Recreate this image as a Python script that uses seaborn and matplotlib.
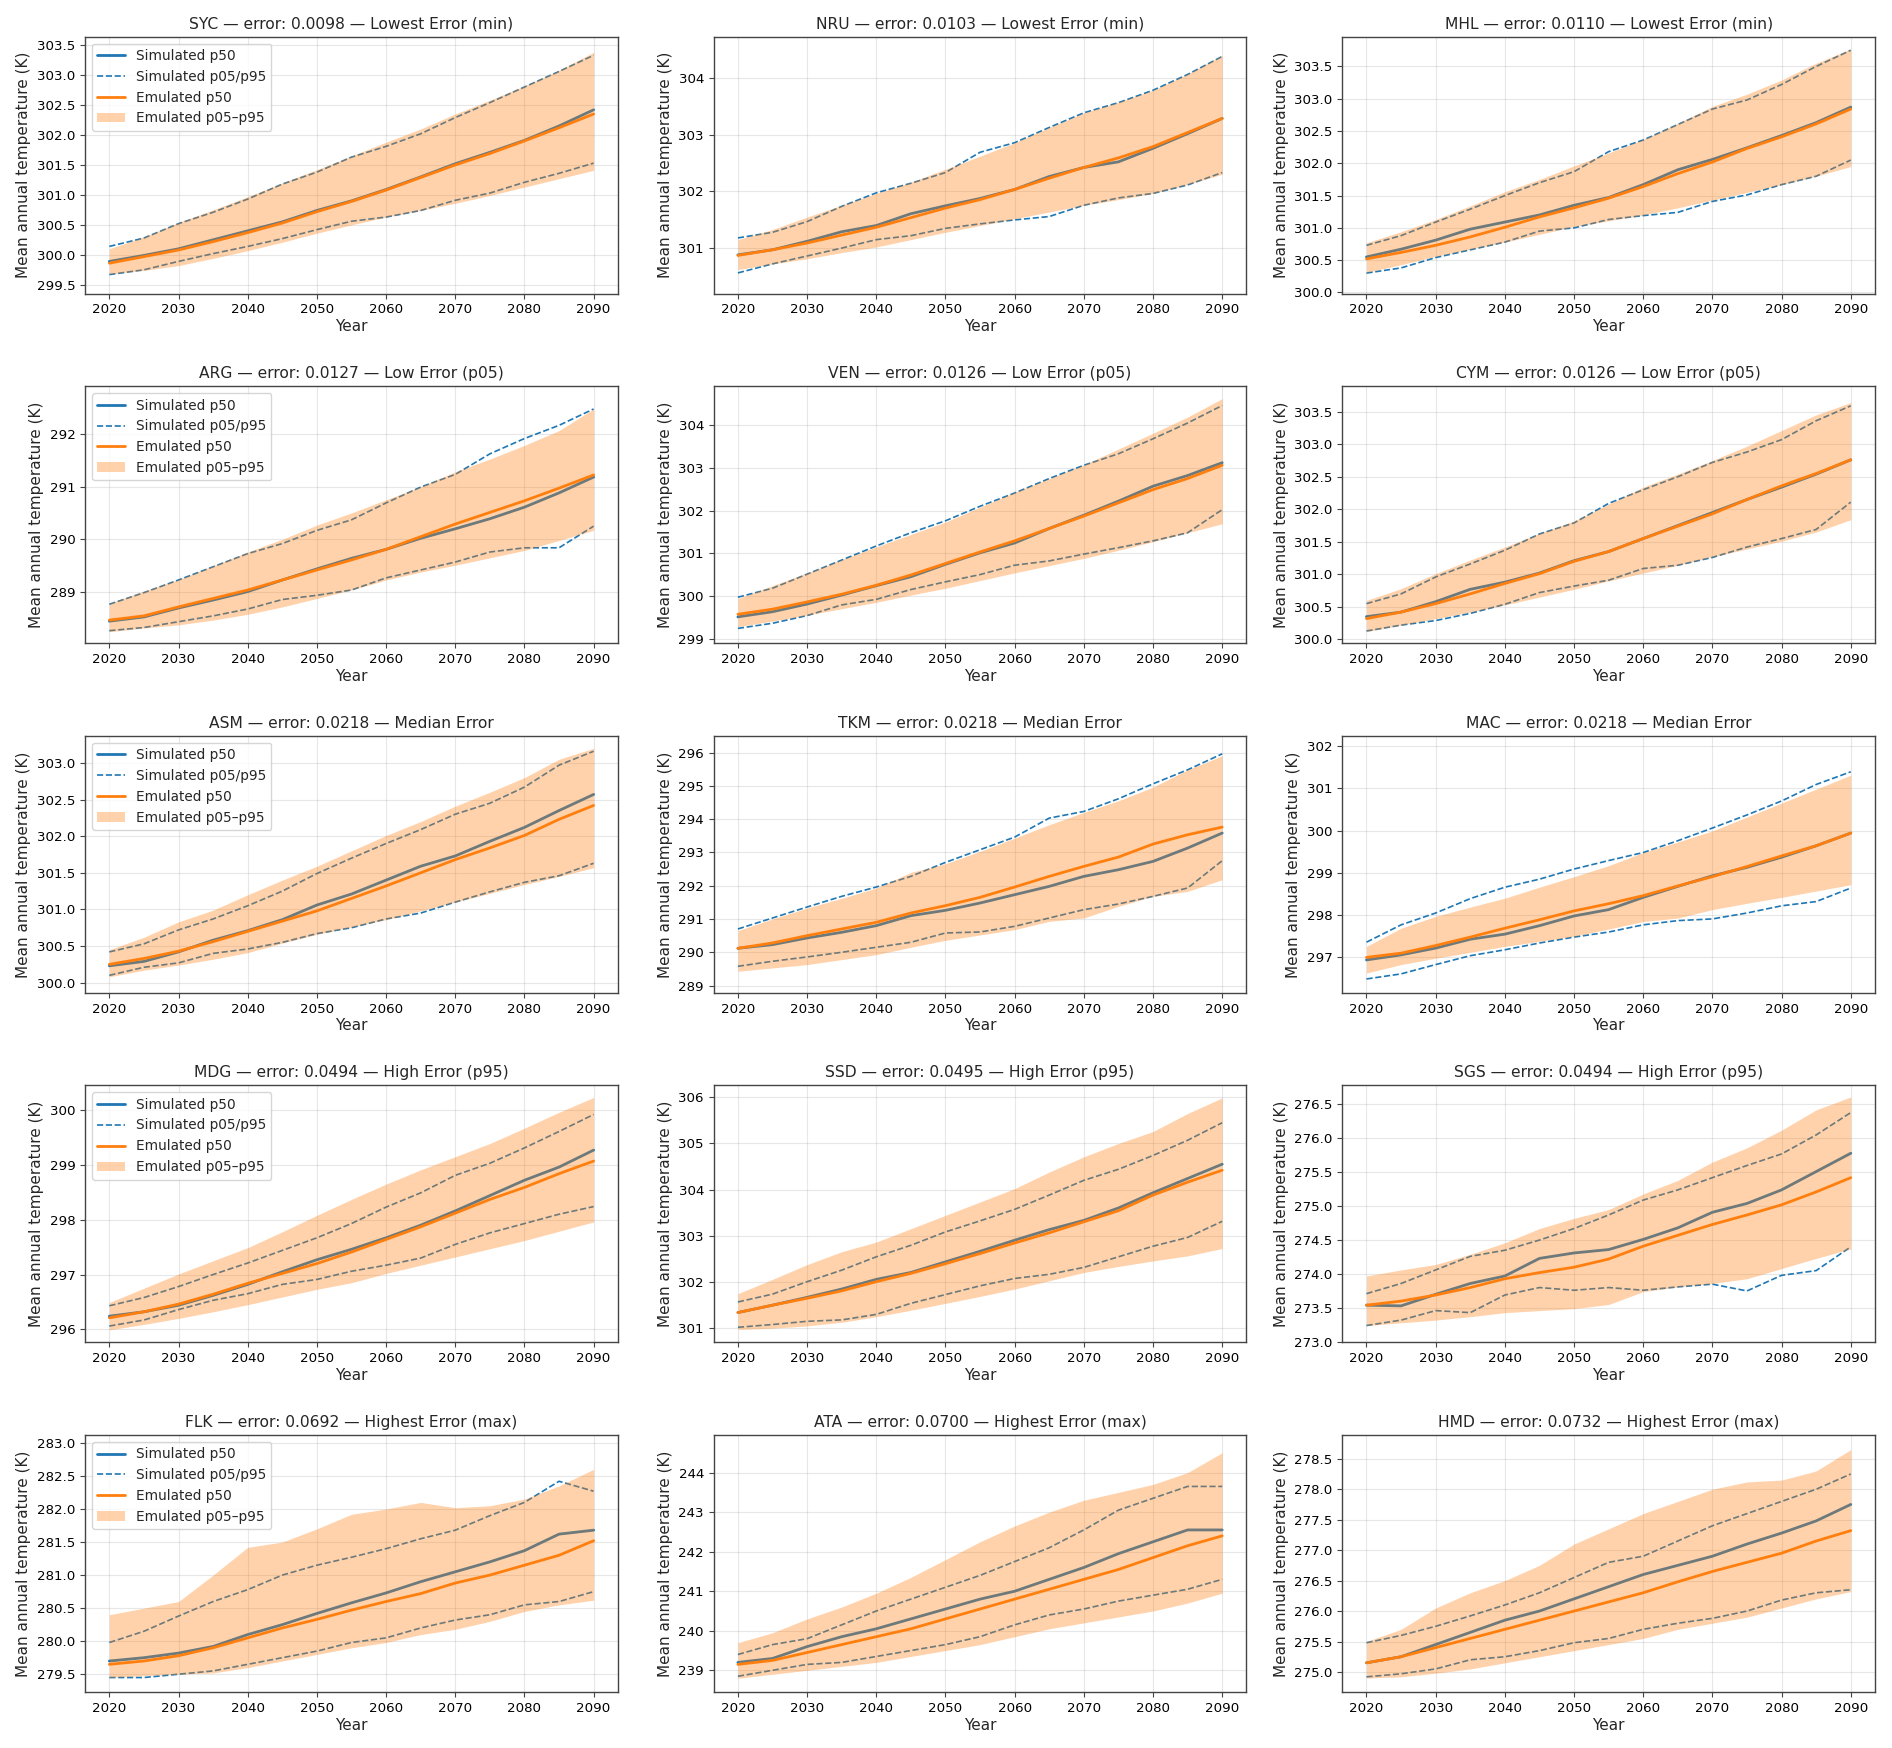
import matplotlib
matplotlib.use("Agg")
import matplotlib.pyplot as plt
import seaborn as sns

YEARS = list(range(2020, 2095, 5))

COUNTRIES = ["SYC", "NRU", "MHL", "ARG", "VEN", "CYM", "ASM", "TKM", "MAC",
             "MDG", "SSD", "SGS", "FLK", "ATA", "HMD"]
ERRORS = ["0.0098", "0.0103", "0.0110", "0.0127", "0.0126", "0.0126",
          "0.0218", "0.0218", "0.0218", "0.0494", "0.0495", "0.0494",
          "0.0692", "0.0700", "0.0732"]
CATEGORIES = ["Lowest Error (min)"] * 3 + ["Low Error (p05)"] * 3 + ["Median Error"] * 3 + \
             ["High Error (p95)"] * 3 + ["Highest Error (max)"] * 3

SIM_P50 = {
    "SYC": [299.89, 299.99, 300.10, 300.25, 300.40, 300.55, 300.74, 300.90, 301.09, 301.30, 301.52, 301.71, 301.91, 302.15, 302.42],
    "NRU": [300.87, 300.96, 301.11, 301.28, 301.39, 301.60, 301.74, 301.87, 302.03, 302.26, 302.42, 302.52, 302.76, 303.02, 303.29],
    "MHL": [300.55, 300.67, 300.81, 300.98, 301.09, 301.20, 301.35, 301.47, 301.67, 301.90, 302.06, 302.24, 302.43, 302.63, 302.87],
    "ARG": [288.45, 288.53, 288.70, 288.85, 289.01, 289.23, 289.44, 289.64, 289.81, 290.02, 290.20, 290.39, 290.61, 290.88, 291.18],
    "VEN": [299.51, 299.63, 299.81, 300.02, 300.24, 300.45, 300.74, 301.01, 301.24, 301.58, 301.89, 302.22, 302.57, 302.82, 303.12],
    "CYM": [300.35, 300.42, 300.58, 300.77, 300.88, 301.02, 301.21, 301.35, 301.55, 301.75, 301.95, 302.15, 302.34, 302.54, 302.76],
    "ASM": [300.23, 300.29, 300.42, 300.58, 300.71, 300.86, 301.06, 301.21, 301.40, 301.59, 301.73, 301.93, 302.12, 302.35, 302.57],
    "TKM": [290.12, 290.23, 290.43, 290.60, 290.80, 291.10, 291.26, 291.48, 291.73, 291.98, 292.28, 292.48, 292.73, 293.13, 293.58],
    "MAC": [296.94, 297.06, 297.22, 297.43, 297.55, 297.75, 297.98, 298.13, 298.42, 298.68, 298.93, 299.13, 299.37, 299.64, 299.94],
    "MDG": [296.24, 296.32, 296.44, 296.62, 296.82, 297.05, 297.27, 297.46, 297.67, 297.90, 298.16, 298.44, 298.72, 298.96, 299.27],
    "SSD": [301.33, 301.49, 301.66, 301.84, 302.05, 302.20, 302.43, 302.66, 302.90, 303.13, 303.33, 303.60, 303.93, 304.24, 304.55],
    "SGS": [273.54, 273.53, 273.70, 273.86, 273.97, 274.23, 274.31, 274.36, 274.51, 274.68, 274.91, 275.04, 275.24, 275.51, 275.78],
    "FLK": [279.70, 279.75, 279.82, 279.92, 280.10, 280.25, 280.42, 280.58, 280.73, 280.90, 281.05, 281.20, 281.37, 281.62, 281.68],
    "ATA": [239.20, 239.30, 239.60, 239.85, 240.05, 240.30, 240.55, 240.80, 241.00, 241.30, 241.60, 241.95, 242.25, 242.55, 242.55],
    "HMD": [275.15, 275.25, 275.45, 275.65, 275.85, 276.00, 276.20, 276.40, 276.60, 276.75, 276.90, 277.10, 277.28, 277.48, 277.75],
}

SIM_P05 = {
    "SYC": [299.67, 299.75, 299.89, 300.02, 300.14, 300.27, 300.42, 300.56, 300.63, 300.74, 300.91, 301.03, 301.21, 301.36, 301.53],
    "NRU": [300.55, 300.71, 300.85, 300.99, 301.14, 301.21, 301.34, 301.42, 301.49, 301.55, 301.75, 301.88, 301.96, 302.11, 302.33],
    "MHL": [300.30, 300.38, 300.54, 300.66, 300.78, 300.95, 301.00, 301.13, 301.19, 301.24, 301.41, 301.51, 301.67, 301.80, 302.05],
    "ARG": [288.27, 288.33, 288.44, 288.55, 288.68, 288.86, 288.94, 289.04, 289.27, 289.42, 289.57, 289.76, 289.84, 289.84, 290.25],
    "VEN": [299.24, 299.36, 299.54, 299.79, 299.92, 300.15, 300.33, 300.50, 300.72, 300.82, 300.98, 301.13, 301.29, 301.48, 302.02],
    "CYM": [300.13, 300.22, 300.29, 300.40, 300.54, 300.72, 300.82, 300.91, 301.09, 301.14, 301.26, 301.42, 301.55, 301.69, 302.11],
    "ASM": [300.10, 300.21, 300.27, 300.40, 300.46, 300.55, 300.67, 300.75, 300.87, 300.95, 301.10, 301.24, 301.37, 301.46, 301.63],
    "TKM": [289.58, 289.73, 289.86, 290.00, 290.15, 290.30, 290.58, 290.61, 290.78, 291.03, 291.28, 291.45, 291.68, 291.93, 292.75],
    "MAC": [296.49, 296.61, 296.83, 297.04, 297.18, 297.34, 297.48, 297.60, 297.77, 297.87, 297.91, 298.05, 298.22, 298.32, 298.64],
    "MDG": [296.06, 296.17, 296.36, 296.53, 296.65, 296.82, 296.91, 297.06, 297.17, 297.30, 297.55, 297.76, 297.93, 298.10, 298.24],
    "SSD": [301.01, 301.07, 301.14, 301.17, 301.29, 301.53, 301.72, 301.91, 302.07, 302.16, 302.31, 302.54, 302.77, 302.96, 303.31],
    "SGS": [273.24, 273.32, 273.46, 273.43, 273.69, 273.80, 273.76, 273.80, 273.76, 273.81, 273.85, 273.75, 273.98, 274.05, 274.40],
    "FLK": [279.45, 279.45, 279.50, 279.55, 279.65, 279.75, 279.85, 279.98, 280.05, 280.20, 280.32, 280.40, 280.55, 280.60, 280.75],
    "ATA": [238.85, 239.00, 239.15, 239.20, 239.35, 239.50, 239.65, 239.85, 240.15, 240.40, 240.55, 240.75, 240.90, 241.05, 241.30],
    "HMD": [274.92, 274.97, 275.05, 275.20, 275.25, 275.35, 275.48, 275.55, 275.70, 275.80, 275.88, 276.00, 276.18, 276.30, 276.35],
}

SIM_P95 = {
    "SYC": [300.14, 300.28, 300.52, 300.71, 300.93, 301.18, 301.38, 301.63, 301.81, 302.02, 302.29, 302.54, 302.80, 303.06, 303.33],
    "NRU": [301.17, 301.27, 301.46, 301.73, 301.97, 302.14, 302.33, 302.69, 302.86, 303.13, 303.39, 303.57, 303.79, 304.07, 304.39],
    "MHL": [300.73, 300.88, 301.09, 301.29, 301.50, 301.70, 301.87, 302.18, 302.36, 302.60, 302.84, 302.98, 303.22, 303.50, 303.75],
    "ARG": [288.77, 288.99, 289.23, 289.48, 289.73, 289.92, 290.17, 290.37, 290.69, 290.99, 291.23, 291.62, 291.91, 292.16, 292.47],
    "VEN": [299.97, 300.18, 300.51, 300.84, 301.17, 301.48, 301.76, 302.10, 302.41, 302.75, 303.06, 303.33, 303.68, 304.05, 304.46],
    "CYM": [300.55, 300.70, 300.96, 301.16, 301.37, 301.62, 301.79, 302.09, 302.30, 302.50, 302.72, 302.88, 303.07, 303.36, 303.59],
    "ASM": [300.42, 300.53, 300.72, 300.87, 301.05, 301.25, 301.49, 301.70, 301.90, 302.09, 302.30, 302.45, 302.67, 302.97, 303.16],
    "TKM": [290.70, 291.03, 291.36, 291.68, 291.96, 292.28, 292.70, 293.08, 293.46, 294.03, 294.23, 294.61, 295.06, 295.48, 295.96],
    "MAC": [297.36, 297.77, 298.05, 298.39, 298.66, 298.85, 299.09, 299.29, 299.48, 299.76, 300.06, 300.37, 300.70, 301.09, 301.39],
    "MDG": [296.43, 296.58, 296.78, 297.00, 297.21, 297.44, 297.67, 297.93, 298.23, 298.49, 298.81, 299.03, 299.31, 299.61, 299.92],
    "SSD": [301.56, 301.73, 302.00, 302.25, 302.54, 302.79, 303.08, 303.32, 303.57, 303.88, 304.20, 304.44, 304.74, 305.07, 305.45],
    "SGS": [273.71, 273.86, 274.06, 274.26, 274.35, 274.50, 274.67, 274.87, 275.09, 275.24, 275.42, 275.60, 275.77, 276.05, 276.38],
    "FLK": [279.98, 280.15, 280.38, 280.60, 280.78, 281.00, 281.15, 281.27, 281.40, 281.55, 281.68, 281.90, 282.10, 282.42, 282.27],
    "ATA": [239.40, 239.65, 239.80, 240.15, 240.50, 240.80, 241.10, 241.40, 241.75, 242.10, 242.55, 243.05, 243.35, 243.65, 243.65],
    "HMD": [275.48, 275.60, 275.75, 275.92, 276.10, 276.30, 276.55, 276.80, 276.90, 277.15, 277.40, 277.60, 277.80, 278.00, 278.25],
}

EMU_P50 = {
    "SYC": [299.86, 299.97, 300.08, 300.22, 300.37, 300.53, 300.72, 300.89, 301.08, 301.29, 301.50, 301.69, 301.90, 302.12, 302.35],
    "NRU": [300.86, 300.96, 301.08, 301.22, 301.36, 301.53, 301.70, 301.85, 302.03, 302.23, 302.42, 302.59, 302.79, 303.04, 303.29],
    "MHL": [300.52, 300.62, 300.73, 300.86, 301.01, 301.17, 301.31, 301.46, 301.64, 301.84, 302.02, 302.23, 302.41, 302.61, 302.84],
    "ARG": [288.47, 288.55, 288.72, 288.88, 289.04, 289.23, 289.42, 289.61, 289.81, 290.05, 290.29, 290.51, 290.73, 290.97, 291.22],
    "VEN": [299.57, 299.69, 299.86, 300.04, 300.25, 300.49, 300.76, 301.03, 301.29, 301.58, 301.87, 302.18, 302.49, 302.75, 303.06],
    "CYM": [300.32, 300.42, 300.55, 300.70, 300.86, 301.01, 301.20, 301.35, 301.55, 301.74, 301.93, 302.15, 302.36, 302.55, 302.76],
    "ASM": [300.25, 300.33, 300.43, 300.56, 300.70, 300.84, 300.98, 301.15, 301.32, 301.50, 301.68, 301.84, 302.01, 302.23, 302.42],
    "TKM": [290.12, 290.28, 290.50, 290.70, 290.90, 291.18, 291.40, 291.65, 291.96, 292.28, 292.58, 292.86, 293.25, 293.53, 293.76],
    "MAC": [297.00, 297.10, 297.28, 297.48, 297.69, 297.89, 298.10, 298.27, 298.46, 298.69, 298.91, 299.15, 299.40, 299.64, 299.94],
    "MDG": [296.21, 296.32, 296.46, 296.64, 296.84, 297.02, 297.20, 297.41, 297.64, 297.87, 298.12, 298.37, 298.59, 298.84, 299.07],
    "SSD": [301.33, 301.49, 301.64, 301.80, 302.00, 302.18, 302.39, 302.61, 302.84, 303.06, 303.30, 303.54, 303.88, 304.16, 304.42],
    "SGS": [273.54, 273.60, 273.69, 273.80, 273.93, 274.02, 274.10, 274.22, 274.41, 274.57, 274.73, 274.87, 275.02, 275.21, 275.42],
    "FLK": [279.65, 279.70, 279.78, 279.90, 280.05, 280.20, 280.33, 280.47, 280.60, 280.72, 280.88, 281.00, 281.15, 281.30, 281.52],
    "ATA": [239.15, 239.25, 239.45, 239.65, 239.85, 240.05, 240.30, 240.55, 240.80, 241.05, 241.30, 241.55, 241.85, 242.15, 242.40],
    "HMD": [275.15, 275.25, 275.40, 275.55, 275.70, 275.85, 276.00, 276.15, 276.30, 276.48, 276.65, 276.80, 276.95, 277.15, 277.32],
}

EMU_P05 = {
    "SYC": [299.68, 299.74, 299.82, 299.94, 300.07, 300.21, 300.36, 300.50, 300.63, 300.74, 300.86, 300.99, 301.13, 301.27, 301.41],
    "NRU": [300.61, 300.71, 300.80, 300.91, 301.01, 301.14, 301.27, 301.39, 301.51, 301.63, 301.75, 301.85, 301.96, 302.12, 302.30],
    "MHL": [300.31, 300.43, 300.56, 300.67, 300.78, 300.90, 301.02, 301.11, 301.20, 301.31, 301.43, 301.55, 301.67, 301.80, 301.95],
    "ARG": [288.25, 288.32, 288.38, 288.47, 288.58, 288.72, 288.88, 289.04, 289.23, 289.38, 289.51, 289.65, 289.79, 289.98, 290.17],
    "VEN": [299.28, 299.41, 299.55, 299.70, 299.85, 300.02, 300.18, 300.36, 300.54, 300.71, 300.88, 301.07, 301.27, 301.48, 301.69],
    "CYM": [300.12, 300.22, 300.32, 300.42, 300.53, 300.65, 300.77, 300.90, 301.02, 301.14, 301.27, 301.39, 301.51, 301.65, 301.84],
    "ASM": [300.08, 300.17, 300.24, 300.32, 300.41, 300.54, 300.66, 300.76, 300.86, 300.98, 301.10, 301.22, 301.34, 301.45, 301.57],
    "TKM": [289.43, 289.53, 289.63, 289.78, 289.93, 290.15, 290.36, 290.52, 290.68, 290.93, 291.03, 291.38, 291.68, 291.83, 292.18],
    "MAC": [296.63, 296.83, 296.98, 297.12, 297.26, 297.38, 297.50, 297.67, 297.85, 297.93, 298.13, 298.28, 298.42, 298.57, 298.72],
    "MDG": [295.99, 296.09, 296.20, 296.32, 296.45, 296.59, 296.73, 296.85, 297.02, 297.17, 297.32, 297.47, 297.62, 297.79, 297.96],
    "SSD": [300.96, 300.99, 301.04, 301.12, 301.24, 301.38, 301.53, 301.68, 301.84, 302.02, 302.20, 302.33, 302.45, 302.56, 302.72],
    "SGS": [273.24, 273.28, 273.32, 273.37, 273.43, 273.46, 273.49, 273.55, 273.74, 273.81, 273.86, 273.93, 274.08, 274.23, 274.37],
    "FLK": [279.45, 279.48, 279.50, 279.52, 279.60, 279.70, 279.80, 279.90, 279.98, 280.10, 280.18, 280.30, 280.45, 280.55, 280.62],
    "ATA": [238.80, 238.90, 239.00, 239.10, 239.20, 239.35, 239.50, 239.65, 239.85, 240.05, 240.20, 240.35, 240.50, 240.70, 240.95],
    "HMD": [274.90, 274.92, 274.98, 275.05, 275.15, 275.25, 275.35, 275.45, 275.55, 275.70, 275.80, 275.90, 276.05, 276.20, 276.32],
}

EMU_P95 = {
    "SYC": [300.10, 300.30, 300.54, 300.75, 300.97, 301.20, 301.42, 301.65, 301.88, 302.10, 302.35, 302.58, 302.82, 303.08, 303.38],
    "NRU": [301.14, 301.32, 301.54, 301.75, 301.96, 302.16, 302.39, 302.62, 302.86, 303.13, 303.39, 303.58, 303.79, 304.08, 304.41],
    "MHL": [300.77, 300.94, 301.13, 301.34, 301.56, 301.75, 301.96, 302.16, 302.37, 302.62, 302.88, 303.07, 303.29, 303.55, 303.77],
    "ARG": [288.79, 289.02, 289.24, 289.50, 289.76, 290.00, 290.27, 290.50, 290.75, 291.00, 291.28, 291.52, 291.78, 292.06, 292.47],
    "VEN": [299.94, 300.24, 300.54, 300.85, 301.15, 301.44, 301.73, 302.08, 302.43, 302.75, 303.07, 303.44, 303.81, 304.19, 304.62],
    "CYM": [300.60, 300.78, 301.01, 301.22, 301.42, 301.63, 301.82, 302.08, 302.34, 302.54, 302.75, 302.97, 303.21, 303.45, 303.64],
    "ASM": [300.45, 300.62, 300.83, 300.99, 301.20, 301.40, 301.59, 301.80, 302.01, 302.20, 302.41, 302.60, 302.80, 303.05, 303.20],
    "TKM": [290.65, 291.00, 291.33, 291.62, 291.93, 292.40, 292.66, 293.03, 293.43, 293.83, 294.20, 294.55, 294.96, 295.48, 295.90],
    "MAC": [297.26, 297.69, 297.97, 298.19, 298.40, 298.66, 298.91, 299.17, 299.48, 299.73, 299.99, 300.32, 300.65, 300.98, 301.31],
    "MDG": [296.49, 296.75, 297.01, 297.25, 297.49, 297.78, 298.08, 298.37, 298.65, 298.91, 299.15, 299.39, 299.67, 299.96, 300.23],
    "SSD": [301.74, 302.05, 302.37, 302.65, 302.86, 303.15, 303.44, 303.73, 304.02, 304.38, 304.71, 305.00, 305.26, 305.65, 305.99],
    "SGS": [273.97, 274.06, 274.14, 274.29, 274.46, 274.67, 274.82, 274.95, 275.18, 275.38, 275.65, 275.86, 276.12, 276.42, 276.61],
    "FLK": [280.40, 280.50, 280.60, 281.00, 281.42, 281.50, 281.70, 281.92, 282.00, 282.10, 282.02, 282.05, 282.15, 282.35, 282.60],
    "ATA": [239.70, 239.95, 240.30, 240.60, 240.95, 241.35, 241.80, 242.25, 242.65, 243.00, 243.30, 243.50, 243.70, 244.00, 244.50],
    "HMD": [275.50, 275.70, 276.05, 276.30, 276.50, 276.75, 277.10, 277.35, 277.60, 277.80, 278.00, 278.12, 278.15, 278.30, 278.65],
}

Y_LIMITS = {
    "SYC": (299.35, 303.64), "NRU": (300.18, 304.74), "MHL": (299.98, 303.96),
    "ARG": (288.03, 292.90), "VEN": (298.89, 304.91), "CYM": (299.94, 303.89),
    "ASM": (299.86, 303.37), "TKM": (288.78, 296.50), "MAC": (296.16, 302.24),
    "MDG": (295.76, 300.45), "SSD": (300.68, 306.26), "SGS": (272.99, 276.78),
    "FLK": (279.23, 283.12), "ATA": (238.45, 244.95), "HMD": (274.67, 278.89),
}

SIM_COLOR = "#1f77b4"
EMU_COLOR = "#ff7f0e"

sns.set_theme(style="ticks")
plt.rcParams["font.family"] = ["DejaVu Sans"]
plt.rcParams["axes.edgecolor"] = "#444444"
plt.rcParams["axes.linewidth"] = 1.0
plt.rcParams["xtick.color"] = "#444444"
plt.rcParams["ytick.color"] = "#444444"
plt.rcParams["xtick.labelcolor"] = "black"
plt.rcParams["ytick.labelcolor"] = "black"

fig, axes = plt.subplots(5, 3, figsize=(18.92, 17.48), dpi=100)
fig.subplots_adjust(left=0.045, right=0.991, top=0.979, bottom=0.032,
                    wspace=0.18, hspace=0.36)

for i, code in enumerate(COUNTRIES):
    ax = axes.flat[i]
    first_col = (i % 3 == 0)
    sns.lineplot(x=YEARS, y=SIM_P50[code], ax=ax, color=SIM_COLOR, lw=2.0,
                 zorder=2, legend=False)
    sns.lineplot(x=YEARS, y=SIM_P05[code], ax=ax, color=SIM_COLOR, lw=1.2,
                 linestyle="--", zorder=2, legend=False)
    sns.lineplot(x=YEARS, y=SIM_P95[code], ax=ax, color=SIM_COLOR, lw=1.2,
                 linestyle="--", zorder=2, legend=False)
    band = ax.fill_between(YEARS, EMU_P05[code], EMU_P95[code], color=EMU_COLOR,
                           alpha=0.35, lw=0, zorder=2.5)
    sns.lineplot(x=YEARS, y=EMU_P50[code], ax=ax, color=EMU_COLOR, lw=2.0,
                 zorder=3, legend=False)

    ax.set_xlim(2016.5, 2093.5)
    ax.set_ylim(*Y_LIMITS[code])
    ax.set_xticks(list(range(2020, 2091, 10)))
    ax.grid(True, color="#b0b0b0", alpha=0.3, lw=0.8)
    ax.set_axisbelow(True)
    ax.tick_params(labelsize=9.6, length=3.5, width=0.8)
    ax.set_xlabel("Year", fontsize=11, labelpad=2)
    ax.set_ylabel("Mean annual temperature (K)", fontsize=11, labelpad=4)
    ax.set_title(f"{code} \u2014 error: {ERRORS[i]} \u2014 {CATEGORIES[i]}",
                 fontsize=11.2, pad=6)
    for s in ax.spines.values():
        s.set_visible(True)

    if first_col:
        lines = ax.get_lines()
        handles = [lines[0], lines[2], lines[3], band]
        labels = ["Simulated p50", "Simulated p05/p95", "Emulated p50",
                  "Emulated p05\u2013p95"]
        ax.legend(handles, labels, loc="upper left", fontsize=9.8,
                  frameon=True, framealpha=0.8, edgecolor="#cccccc",
                  fancybox=True)

fig.savefig("out.png", dpi=100)
